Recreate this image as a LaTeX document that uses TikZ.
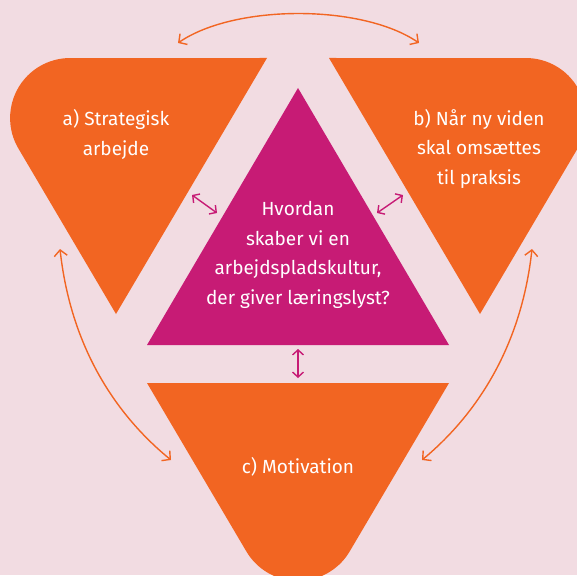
\documentclass[tikz,border=0pt]{standalone}
\usepackage{fontspec}
\setmainfont{Fira Sans}
\usetikzlibrary{arrows.meta}
\definecolor{bgpink}{HTML}{F2DCE2}
\definecolor{orng}{HTML}{F26522}
\definecolor{magen}{HTML}{C71B75}
\tikzset{
  lbl/.style={text=white, align=center, font=\fontsize{19}{29.5}\selectfont, inner sep=0pt},
  orarrow/.style={draw=orng, line width=1.4pt, {Straight Barb[length=6pt,width=13pt]}-{Straight Barb[length=6pt,width=13pt]}},
  mgarrow/.style={draw=magen, line width=1.4pt, {Straight Barb[length=5pt,width=11pt]}-{Straight Barb[length=5pt,width=11pt]}}
}
\begin{document}
\begin{tikzpicture}[x=1pt,y=-1pt]
\useasboundingbox (0,0) rectangle (577,575);
\fill[bgpink] (0,0) rectangle (577,575);
\begin{scope}
\clip (0,0) rectangle (577,575);
% left orange
\fill[orng] (267,58) -- (116,314) -- (18.4,148.5) arc[start angle=149.47, end angle=270, radius=60] -- cycle;
% right orange
\fill[orng] (329,58) -- (480,314) -- (577.6,148.5) arc[start angle=30.53, end angle=-90, radius=60] -- cycle;
% bottom orange
\fill[orng] (147,383) -- (449,383) -- (349.7,551.4) arc[start angle=30.53, end angle=149.47, radius=60] -- cycle;
% magenta
\fill[magen] (298,88) -- (449,345) -- (147,345) -- cycle;
\end{scope}
% labels (base = last line baseline)
\node[lbl, anchor=base] (ta) at (116,155) {a) Strategisk\\arbejde};
\node[lbl, anchor=base] (tb) at (479,184) {b) Når ny viden\\skal omsættes\\til praksis};
\node[lbl, anchor=base] (tm) at (298,304) {Hvordan\\skaber vi en\\arbejdspladskultur,\\der giver læringslyst?};
\node[lbl, anchor=base] (tc) at (298,473) {c) Motivation};
% arrow endpoints
\coordinate (topL) at (178,43);
\coordinate (topR) at (419,43);
\coordinate (leftT) at (60,249);
\coordinate (leftB) at (171,460);
\coordinate (rightT) at (532,249);
\coordinate (rightB) at (422,460);
\coordinate (mlA) at (192,195);
\coordinate (mlB) at (217,213);
\coordinate (mrA) at (377,213);
\coordinate (mrB) at (403,195);
\coordinate (mbA) at (298,349);
\coordinate (mbB) at (298,378);
% orange arrows
\draw[orarrow] (topL) .. controls (235,4) and (362,4) .. (topR);
\draw[orarrow] (leftT) .. controls (70,340) and (110,410) .. (leftB);
\draw[orarrow] (rightT) .. controls (522,340) and (482,410) .. (rightB);
% magenta arrows
\draw[mgarrow] (mlA) -- (mlB);
\draw[mgarrow] (mrA) -- (mrB);
\draw[mgarrow] (mbA) -- (mbB);
\end{tikzpicture}
\end{document}
